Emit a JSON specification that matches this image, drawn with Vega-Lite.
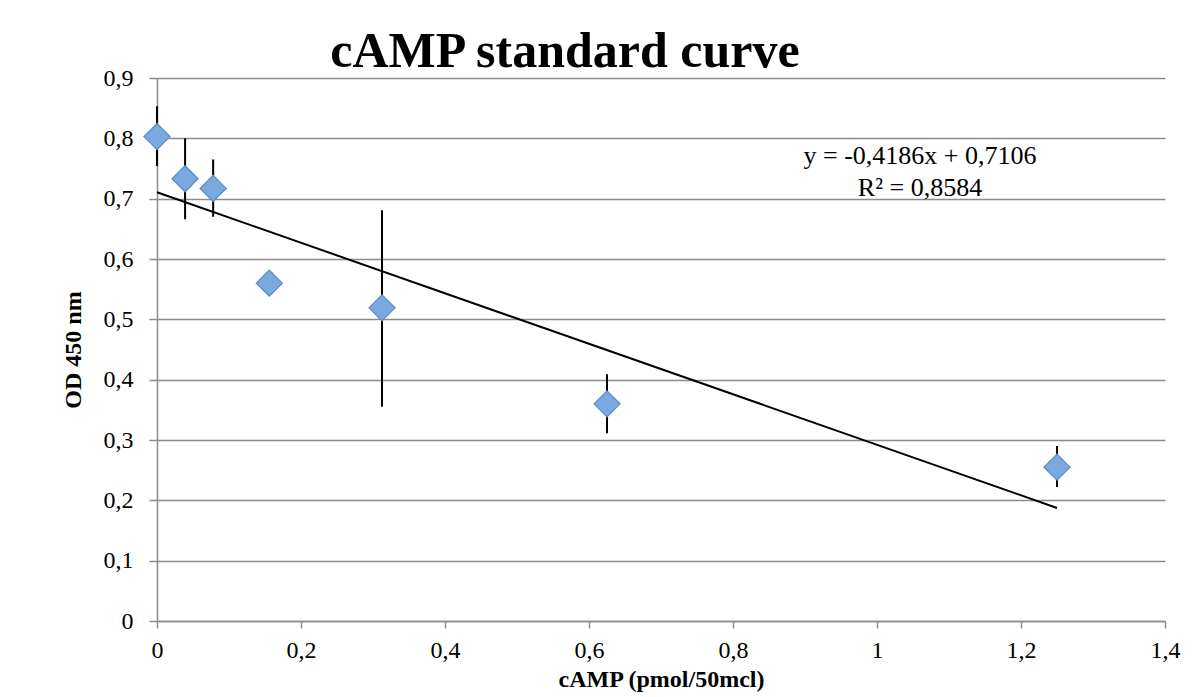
{
  "$schema": "https://vega.github.io/schema/vega-lite/v6.json",
  "width": 1008,
  "height": 543,
  "autosize": {"type": "none"},
  "padding": {"left": 157, "top": 78, "right": 37, "bottom": 76},
  "background": "white",
  "title": {
    "text": "cAMP standard curve",
    "font": "Liberation Serif",
    "fontSize": 50,
    "fontWeight": "bold",
    "color": "black",
    "anchor": "middle",
    "baseline": "alphabetic",
    "dx": -96,
    "dy": 51,
    "offset": 0
  },
  "config": {
    "view": {"stroke": null},
    "axis": {
      "labelFont": "Liberation Serif",
      "labelFontSize": 24,
      "labelColor": "black",
      "labelFlush": false,
      "labelOverlap": false,
      "titleFont": "Liberation Serif",
      "titleFontSize": 24,
      "titleFontWeight": "bold",
      "titleColor": "black",
      "titleBaseline": "alphabetic",
      "domainColor": "#8c8c8c",
      "domainWidth": 1.5,
      "tickColor": "#8c8c8c",
      "tickWidth": 1.5,
      "gridColor": "#8c8c8c",
      "gridWidth": 1.5,
      "gridOpacity": 1
    }
  },
  "datasets": {
    "points": [
      {"camp": 0, "od": 0.803, "lo": 0.754, "hi": 0.853},
      {"camp": 0.039, "od": 0.733, "lo": 0.666, "hi": 0.8},
      {"camp": 0.078, "od": 0.717, "lo": 0.670, "hi": 0.765},
      {"camp": 0.156, "od": 0.560, "lo": 0.552, "hi": 0.568},
      {"camp": 0.3125, "od": 0.519, "lo": 0.355, "hi": 0.681},
      {"camp": 0.625, "od": 0.360, "lo": 0.311, "hi": 0.409},
      {"camp": 1.25, "od": 0.255, "lo": 0.222, "hi": 0.290}
    ],
    "trend": [
      {"camp": 0, "od": 0.7106},
      {"camp": 1.25, "od": 0.1874}
    ],
    "eq": [
      {"label": "y = -0,4186x + 0,7106\nR² = 0,8584"}
    ]
  },
  "layer": [
    {
      "data": {"name": "trend"},
      "mark": {"type": "line", "color": "black", "strokeWidth": 2},
      "encoding": {
        "x": {
          "field": "camp",
          "type": "quantitative",
          "scale": {"domain": [0, 1.4], "nice": false},
          "axis": {
            "title": "cAMP (pmol/50mcl)",
            "values": [0, 0.2, 0.4, 0.6, 0.8, 1, 1.2, 1.4],
            "labelExpr": "replace(format(datum.value, '~g'), '.', ',')",
            "grid": false,
            "tickSize": 7,
            "labelPadding": 10,
            "titleY": 65
          }
        },
        "y": {
          "field": "od",
          "type": "quantitative",
          "scale": {"domain": [0, 0.9], "nice": false},
          "axis": {
            "title": "OD 450 nm",
            "values": [0, 0.1, 0.2, 0.3, 0.4, 0.5, 0.6, 0.7, 0.8, 0.9],
            "labelExpr": "replace(format(datum.value, '~g'), '.', ',')",
            "tickSize": 8,
            "labelPadding": 16,
            "titleX": -77
          }
        }
      }
    },
    {
      "data": {"name": "points"},
      "mark": {"type": "rule", "color": "black", "strokeWidth": 2},
      "encoding": {
        "x": {"field": "camp", "type": "quantitative"},
        "y": {"field": "lo", "type": "quantitative"},
        "y2": {"field": "hi"}
      }
    },
    {
      "data": {"name": "points"},
      "mark": {
        "type": "point",
        "shape": "diamond",
        "size": 680,
        "filled": true,
        "fill": "#7aa9e0",
        "stroke": "#5a8bcb",
        "strokeWidth": 1.2,
        "opacity": 1
      },
      "encoding": {
        "x": {"field": "camp", "type": "quantitative"},
        "y": {"field": "od", "type": "quantitative"}
      }
    },
    {
      "data": {"name": "eq"},
      "mark": {
        "type": "text",
        "align": "center",
        "baseline": "alphabetic",
        "lineBreak": "\n",
        "font": "Liberation Serif",
        "fontSize": 26,
        "lineHeight": 32,
        "color": "black"
      },
      "encoding": {
        "text": {"field": "label"},
        "x": {"datum": 1.0597},
        "y": {"datum": 0.758}
      }
    }
  ]
}
